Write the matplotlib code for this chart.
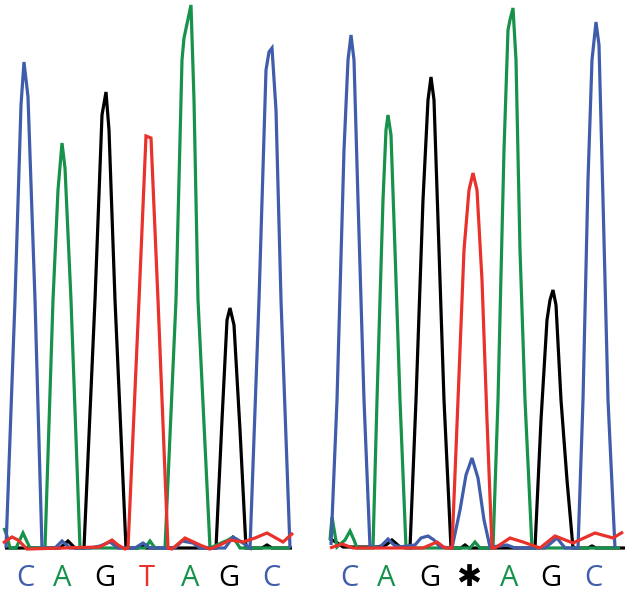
import matplotlib
matplotlib.use("Agg")
import matplotlib.pyplot as plt

# colours of the four dye traces
C_BLUE = "#3F5DAB"
C_GREEN = "#17924A"
C_RED = "#E8322B"
C_BLACK = "#000000"

# ---------------- trace vertices (x px, y px from top) ----------------
# left panel: wild type C A G T A G C
L_black_x = [5, 60, 68, 75, 84, 95, 102, 106, 109, 115, 126, 138, 142, 146, 216, 222, 227, 230, 234, 240, 246, 262, 267, 272, 292]
L_black_y = [548, 548, 541, 548, 548, 300, 115, 92, 130, 300, 548, 548, 545, 548, 548, 420, 320, 308, 325, 430, 548, 548, 545, 548, 548]

L_green_x = [4, 7, 10, 16, 23, 30, 45, 53, 58, 62, 65, 71, 80, 145, 150, 155, 165, 176, 182, 184, 191, 194, 198, 210, 228, 233, 240, 290]
L_green_y = [528, 536, 548, 548, 533, 548, 548, 300, 190, 143, 168, 300, 548, 548, 541, 548, 548, 300, 60, 38, 5, 100, 300, 548, 540, 537, 548, 548]

L_blue_x = [6, 15, 21, 24, 28, 35, 42, 55, 62, 70, 90, 100, 110, 118, 135, 143, 150, 175, 182, 193, 200, 225, 233, 240, 250, 259, 266, 269, 272, 276, 281, 290]
L_blue_y = [548, 300, 105, 62, 97, 300, 548, 548, 541, 548, 548, 546, 542, 548, 548, 543, 548, 548, 541, 543, 548, 548, 537, 541, 548, 300, 70, 52, 48, 110, 300, 548]

L_red_x = [3, 12, 18, 27, 100, 112, 118, 125, 128, 139, 146, 151, 158, 168, 172, 185, 200, 210, 222, 230, 243, 255, 267, 283, 293]
L_red_y = [543, 537, 540, 549, 547, 540, 545, 549, 548, 300, 136, 138, 300, 548, 549, 538, 545, 549, 544, 540, 542, 538, 533, 542, 533]

# right panel: mutant C A G * A G C (T/C mixed)
R_black_x = [330, 336, 343, 377, 386, 392, 400, 410, 416, 423, 428, 431, 434, 438, 444, 451, 461, 465, 469, 535, 541, 547, 550, 553, 556, 561, 567, 573, 588, 592, 596, 625]
R_black_y = [539, 542, 547, 547, 545, 540, 547, 548, 400, 200, 100, 77, 100, 220, 400, 548, 548, 545, 548, 548, 420, 320, 300, 290, 305, 400, 480, 548, 548, 546, 548, 548]

R_green_x = [330, 332, 337, 345, 350, 354, 357, 373, 377, 383, 386, 388, 391, 395, 400, 406, 470, 475, 480, 493, 498, 504, 508, 510, 513, 516, 520, 525, 532, 620]
R_green_y = [540, 517, 547, 540, 531, 540, 548, 548, 400, 200, 130, 115, 135, 250, 400, 548, 548, 542, 548, 548, 400, 150, 30, 20, 8, 60, 250, 400, 548, 548]

R_blue_x = [331, 337, 344, 348, 351, 354, 358, 364, 370, 380, 388, 394, 400, 415, 421, 428, 434, 440, 452, 460, 466, 472, 478, 484, 490, 500, 507, 515, 545, 557, 565, 578, 583, 588, 592, 596, 599, 603, 608, 615]
R_blue_y = [545, 400, 150, 60, 35, 60, 200, 400, 547, 547, 539, 545, 547, 545, 538, 536, 540, 547, 548, 510, 475, 458, 478, 520, 547, 546, 545, 548, 548, 538, 548, 548, 400, 180, 60, 22, 45, 200, 400, 548]

R_red_x = [330, 342, 353, 423, 437, 445, 452, 458, 464, 469, 473, 477, 482, 487, 492, 495, 510, 523, 540, 555, 573, 595, 613, 623]
R_red_y = [548, 544, 548, 548, 542, 548, 548, 400, 250, 190, 173, 190, 280, 420, 548, 548, 538, 542, 548, 536, 543, 533, 538, 532]

# base calls under each panel
L_bases = ["C", "A", "G", "T", "A", "G", "C"]
L_base_x = [25, 62, 105, 147, 190, 229, 271]
R_bases = ["C", "A", "G", "\u2731", "A", "G", "C"]
R_base_x = [349, 386, 430, 469, 509, 551, 593]
BASE_Y = 578

base_color = {"C": C_BLUE, "A": C_GREEN, "G": C_BLACK, "T": C_RED, "\u2731": C_BLACK}

# ---------------- figure ----------------
fig = plt.figure(figsize=(6.29, 5.96), dpi=100)
ax = fig.add_axes([0, 0, 1, 1])
ax.set_xlim(0, 629)
ax.set_ylim(596, 0)
ax.axis("off")

lw = 2.3
traces = [
    (L_black_x, L_black_y, C_BLACK), (R_black_x, R_black_y, C_BLACK),
    (L_green_x, L_green_y, C_GREEN), (R_green_x, R_green_y, C_GREEN),
    (L_blue_x, L_blue_y, C_BLUE), (R_blue_x, R_blue_y, C_BLUE),
    (L_red_x, L_red_y, C_RED), (R_red_x, R_red_y, C_RED),
]
for xs, ys, col in traces:
    ax.plot(xs, ys, color=col, lw=lw, solid_joinstyle="miter", solid_capstyle="butt")

for bases, bx in [(L_bases, L_base_x), (R_bases, R_base_x)]:
    for b, x in zip(bases, bx):
        if b == "\u2731":
            ax.text(x, BASE_Y, b, ha="center", va="center", fontsize=21.5,
                    color=base_color[b], family="DejaVu Sans")
        else:
            ax.text(x, BASE_Y, b, ha="center", va="center", fontsize=21,
                    color=base_color[b], family="Open Sans")

fig.savefig("out.png", dpi=100)
